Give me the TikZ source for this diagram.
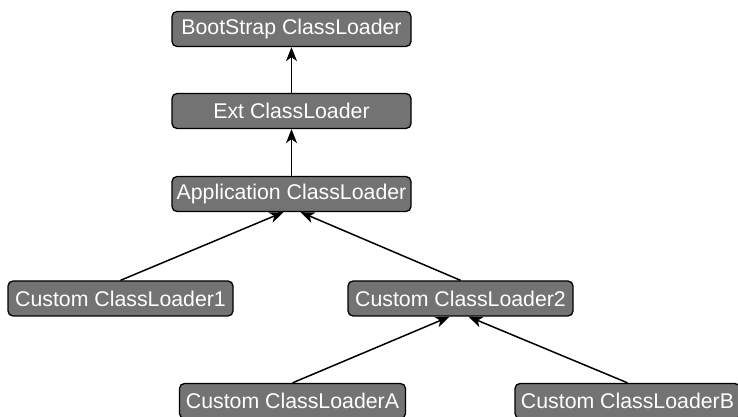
\documentclass[tikz,border=0pt]{standalone}
\usepackage{fontspec}
\setmainfont{Liberation Sans}
\usetikzlibrary{arrows.meta,calc}
\definecolor{boxgray}{HTML}{737373}
\tikzset{
  loader/.style={draw=black, line width=1.3pt, fill=boxgray, rounded corners=5pt,
    text=white, font=\fontsize{21.3}{24}\selectfont, inner sep=0pt,
    minimum height=35pt, minimum width=#1},
  loader/.default=239pt,
  parent/.style={draw=black, line width=1.5pt, -{Stealth[length=14pt,width=11pt,inset=4pt]}}
}
\begin{document}
\begin{tikzpicture}[x=1pt,y=1pt]
  \useasboundingbox (0,0) rectangle (738,417);
  % class loader hierarchy
  \node[loader] (boot) at (291.5,388) {BootStrap ClassLoader};
  \node[loader] (ext)  at (291.5,306) {Ext ClassLoader};
  \node[loader] (app)  at (291.5,223) {Application ClassLoader};
  \node[loader=225pt] (c1) at (120.5,118.5) {Custom ClassLoader1};
  \node[loader=225pt] (c2) at (460.5,118.5) {Custom ClassLoader2};
  \node[loader=226pt] (ca) at (292.5,16) {Custom ClassLoaderA};
  \node[loader=225pt] (cb) at (627.5,16) {Custom ClassLoaderB};
  % delegation to the parent loader
  \draw[parent] (ext.north) -- (boot.south);
  \draw[parent] (app.north) -- (ext.south);
  \draw[parent] (c1.north) -- ($(app.south)+(-8,0)$);
  \draw[parent] (c2.north) -- ($(app.south)+(9,0)$);
  \draw[parent] (ca.north) -- ($(c2.south)+(-11,0)$);
  \draw[parent] (cb.north) -- ($(c2.south)+(8,0)$);
\end{tikzpicture}
\end{document}
